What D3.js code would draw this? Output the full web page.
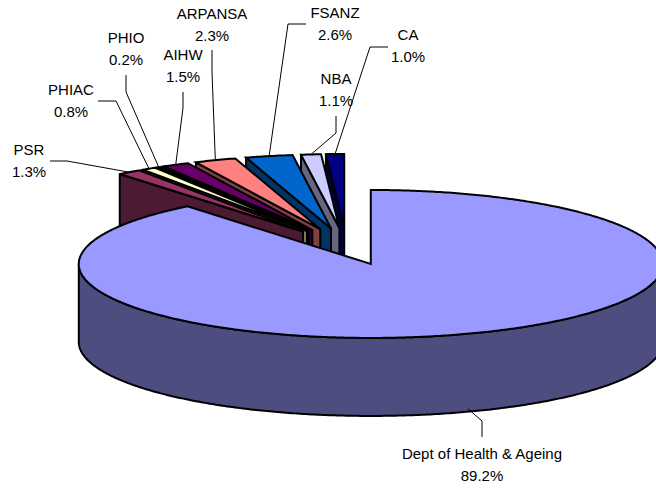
<!DOCTYPE html>
<html>
<head>
<meta charset="utf-8">
<script src="https://cdn.jsdelivr.net/npm/d3@7"></script>
<style>
  html, body { margin: 0; padding: 0; background: #fff; overflow: hidden; }
</style>
</head>
<body>
<div id="chart"></div>
<script>
// Chart data
const agencies = ["Dept of Health & Ageing", "PSR", "PHIAC", "PHIO", "AIHW", "ARPANSA", "FSANZ", "NBA", "CA"];
const shares = [89.2, 1.3, 0.8, 0.2, 1.5, 2.3, 2.6, 1.1, 1.0];
const colors = ["#9999FF", "#993366", "#FFFFCC", "#CCFFFF", "#660066", "#FF8080", "#0066CC", "#CCCCFF", "#000080"];

// Label text position and leader elbow(s), same order as agencies
const labelX = [482, 29, 71, 126, 183, 212, 335, 336, 408];
const labelY = [454, 150, 90, 38, 55, 14, 13, 79, 35];
const leaderPoints = [
    [[482, 437], [482, 421]],
    [[50, 161], [67, 161]],
    [[98, 101], [116, 101]],
    [[126, 75], [126, 92]],
    [[183, 92], [183, 108]],
    [[212, 50], [212, 72]],
    [[306, 24], [288, 24]],
    [[336, 116], [336, 133]],
    [[388, 47], [370, 47]]
];

const width = 656;
const height = 488;
const depth = 78;       // height of the pie wall
const explode = 0.25;   // every slice is pulled out by this share of the radius

// Ellipse scales, unit circle to pixels
const x = d3.scaleLinear().domain([-1, 1]).range([54.5, 638.5]);
const y = d3.scaleLinear().domain([-1, 1]).range([172.5, 320.5]);

const svg = d3.select("#chart")
    .append("svg")
    .attr("width", width)
    .attr("height", height)
    .style("display", "block");

const slices = d3.pie().value(d => d).sort(null)(shares)
    .map((d, i) => ({ ...d, name: agencies[i], color: colors[i] }));

// Point on the exploded slice at angle a, r = 0 is the slice tip
function point(d, a, r) {
    const mid = (d.startAngle + d.endAngle) / 2;
    return [
        x(r * Math.sin(a) + explode * Math.sin(mid)),
        y(-r * Math.cos(a) - explode * Math.cos(mid))
    ];
}

function arcPoints(d, from, to) {
    const n = Math.max(2, Math.ceil(Math.abs(to - from) / 0.01));
    return d3.range(n + 1).map(k => point(d, from + (to - from) * k / n, 1));
}

const line = d3.line();

function wallColor(c) {
    const rgb = d3.rgb(c);
    return d3.rgb(rgb.r / 2, rgb.g / 2, rgb.b / 2).formatHex();
}

function drawSlice(d) {
    const g = svg.append("g").attr("class", "slice");
    const tip = point(d, 0, 0);
    const down = p => [p[0], p[1] + depth];

    if (d.index === 0) {
        // Front wall of the big slice, from the right edge round to the left edge
        const front = arcPoints(d, Math.PI / 2, 3 * Math.PI / 2);
        g.append("path")
            .attr("d", line(front.concat(front.map(down).reverse())) + "Z")
            .attr("fill", wallColor(d.color))
            .attr("stroke", "#000")
            .attr("stroke-width", 2)
            .attr("stroke-linejoin", "round");
    } else {
        // Small slices only show the wall along their start edge
        const outer = point(d, d.startAngle, 1);
        g.append("path")
            .attr("d", line([outer, tip, down(tip), down(outer)]) + "Z")
            .attr("fill", wallColor(d.color))
            .attr("stroke", "#000")
            .attr("stroke-width", 2)
            .attr("stroke-linejoin", "round");
    }

    // Top face
    g.append("path")
        .attr("d", line([tip].concat(arcPoints(d, d.startAngle, d.endAngle))) + "Z")
        .attr("fill", d.color)
        .attr("stroke", "#000")
        .attr("stroke-width", 2)
        .attr("stroke-linejoin", "miter");
}

// Back slices first, left most small slice over its neighbours, big slice last
slices.slice(1).reverse().forEach(drawSlice);
drawSlice(slices[0]);

// Leader lines end on the middle of each slice's outer edge
slices.forEach((d, i) => {
    const mid = (d.startAngle + d.endAngle) / 2;
    let end = point(d, mid, 1);
    if (i === 0) end = [end[0], end[1] + depth - 3];
    svg.append("path")
        .attr("d", line(leaderPoints[i].concat([end])))
        .attr("fill", "none")
        .attr("stroke", "#000")
        .attr("stroke-width", 1);
});

// Labels
const labels = svg.selectAll("text.label")
    .data(slices)
    .enter()
    .append("text")
    .attr("class", "label")
    .attr("text-anchor", "middle")
    .style("font-family", "'Liberation Sans', Arial, sans-serif")
    .style("font-size", "15px")
    .style("fill", "#000");

labels.append("tspan")
    .attr("x", (d, i) => labelX[i])
    .attr("y", (d, i) => labelY[i] + 5)
    .text(d => d.name);

labels.append("tspan")
    .attr("x", (d, i) => labelX[i])
    .attr("y", (d, i) => labelY[i] + 27)
    .text(d => d.value.toFixed(1) + "%");
</script>
</body>
</html>
